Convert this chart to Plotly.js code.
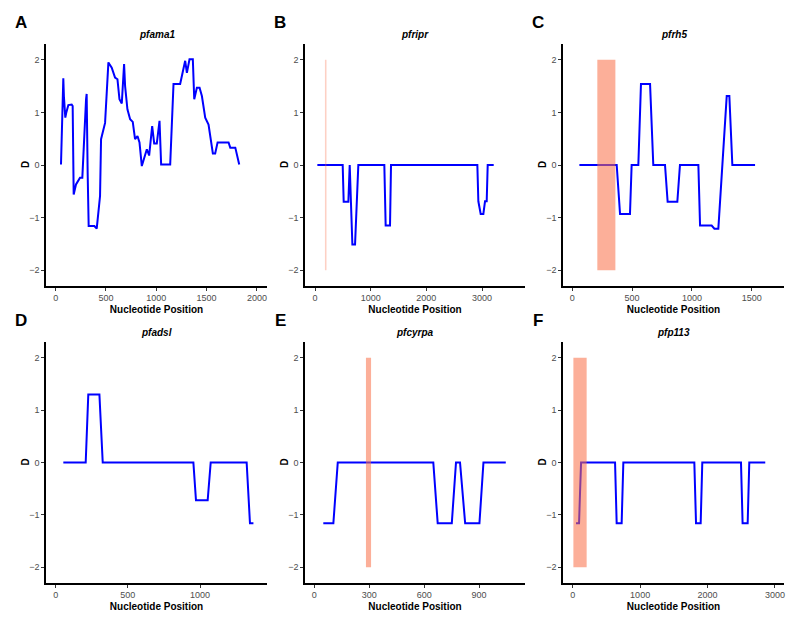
<!DOCTYPE html>
<html>
<head>
<meta charset="utf-8">
<script src="https://cdn.plot.ly/plotly-3.0.1.min.js"></script>
<style>html,body{margin:0;padding:0;background:#fff;}#chart{width:800px;height:625px;}</style>
</head>
<body>
<div id="chart"></div>
<script>
// ---- Data ----
const genes = ["pfama1", "pfripr", "pfrh5", "pfadsl", "pfcyrpa", "pfp113"];
const panelLetters = ["A", "B", "C", "D", "E", "F"];

const pfama1X = [53, 62, 76, 82, 96, 106, 126, 159, 169, 179, 202, 242, 265, 302, 308, 318, 328, 385, 408, 441, 451, 491, 524, 557, 590, 614, 634, 657, 680, 690, 713, 740, 766, 789, 813, 833, 856, 906, 929, 959, 979, 1005, 1032, 1048, 1138, 1171, 1237, 1287, 1304, 1330, 1363, 1377, 1403, 1430, 1453, 1486, 1519, 1562, 1585, 1609, 1718, 1735, 1785, 1824];
const pfama1D = [0.01, 0.8, 1.65, 1.3, 0.9, 1.0, 1.14, 1.15, 1.12, -0.56, -0.37, -0.24, -0.24, 1.25, 1.35, -0.15, -1.16, -1.16, -1.21, -0.59, 0.49, 0.8, 1.95, 1.85, 1.66, 1.63, 1.25, 1.17, 1.92, 1.5, 1.06, 0.87, 0.82, 0.49, 0.55, 0.43, -0.02, 0.3, 0.18, 0.74, 0.41, 0.41, 0.84, 0.01, 0.01, 1.54, 1.54, 1.98, 1.75, 2.01, 2.01, 1.25, 1.47, 1.47, 1.31, 0.9, 0.77, 0.22, 0.22, 0.43, 0.43, 0.33, 0.33, 0.01];

const pfriprX = [42, 497, 515, 599, 623, 640, 671, 719, 754, 778, 1245, 1269, 1347, 1365, 2916, 2934, 2976, 3024, 3054, 3084, 3102, 3210];
const pfriprD = [0, 0, -0.7, -0.7, 0, -0.6, -1.51, -1.51, -0.59, 0, 0, -1.15, -1.15, 0, 0, -0.69, -0.93, -0.93, -0.69, -0.69, 0, 0];

const pfrh5X = [59, 371, 399, 482, 496, 552, 574, 650, 677, 775, 797, 878, 900, 1054, 1068, 1165, 1188, 1221, 1291, 1313, 1338, 1528];
const pfrh5D = [0, 0, -0.93, -0.93, 0, 0, 1.54, 1.54, 0, 0, -0.7, -0.7, 0, 0, -1.15, -1.15, -1.21, -1.21, 1.31, 1.31, 0, 0];

const pfadslX = [53, 208, 226, 303, 326, 954, 972, 1053, 1074, 1323, 1346, 1370];
const pfadslD = [0, 0, 1.3, 1.3, 0, 0, -0.72, -0.72, 0, 0, -1.16, -1.16];

const pfcyrpaX = [49, 104, 128, 650, 674, 751, 774, 796, 824, 902, 924, 1046];
const pfcyrpaD = [-1.16, -1.16, 0, 0, -1.16, -1.16, 0, 0, -1.16, -1.16, 0, 0];

const pfp113X = [49, 94, 109, 124, 628, 642, 652, 726, 741, 751, 1804, 1819, 1829, 1898, 1913, 1922, 2496, 2511, 2520, 2595, 2609, 2619, 2856];
const pfp113D = [-1.16, -1.16, -0.56, 0, 0, -0.59, -1.16, -1.16, -0.59, 0, 0, -0.59, -1.16, -1.16, -0.59, 0, 0, -0.59, -1.16, -1.16, -0.59, 0, 0];

// highlighted regions [start, end] (null = none)
const regionStart = [null, 178, 209, null, 282, 10];
const regionEnd   = [null, 206, 360, null, 310, 207];
const regionAlpha = [0, 0.32, 0.55, 0, 0.55, 0.55];
const regionLow = -2, regionHigh = 2;

const xTickStep = [500, 1000, 500, 500, 300, 1000];
const yTicks = [-2, -1, 0, 1, 2];
const xTitle = "Nucleotide Position";
const yTitle = "D";

// ---- Layout geometry ----
const xs = [pfama1X, pfriprX, pfrh5X, pfadslX, pfcyrpaX, pfp113X];
const ys = [pfama1D, pfriprD, pfrh5D, pfadslD, pfcyrpaD, pfp113D];
const W = 800, H = 625;
const colPx = [[46, 267], [305, 525], [563, 784]];
const rowPx = [[44, 286], [342, 583]];
const xRanges = [[-96, 2100], [-180, 3772], [-78, 1770], [-67, 1464], [-51, 1151], [-144, 3134]];
const yRange = [-2.3, 2.3];

const font = "Liberation Sans, Arial, sans-serif";
const traces = [];
const layout = {
  width: W, height: H,
  margin: {l: 0, r: 0, t: 0, b: 0},
  paper_bgcolor: "#fff", plot_bgcolor: "#fff",
  showlegend: false,
  font: {family: font, color: "#000"},
  shapes: [], annotations: []
};

for (let i = 0; i < 6; i++) {
  const r = Math.floor(i / 3), c = i % 3;
  const sfx = i === 0 ? "" : String(i + 1);
  const xa = "xaxis" + sfx, ya = "yaxis" + sfx;
  const xr = "x" + sfx, yr = "y" + sfx;
  const dx = [colPx[c][0] / W, colPx[c][1] / W];
  const dy = [1 - rowPx[r][1] / H, 1 - rowPx[r][0] / H];

  traces.push({
    type: "scatter", mode: "lines", x: xs[i], y: ys[i], xaxis: xr, yaxis: yr,
    line: {color: "#0000FF", width: 2}, hoverinfo: "skip"
  });

  layout[xa] = {
    domain: dx, anchor: yr, range: xRanges[i],
    showgrid: false, zeroline: false, showline: true, linecolor: "#000", linewidth: 1.6,
    ticks: "outside", ticklen: 3, tickwidth: 1, tickcolor: "#333",
    tick0: 0, dtick: xTickStep[i],
    tickfont: {family: font, size: 9, color: "#4D4D4D"},
    title: {text: "<b>" + xTitle + "</b>", font: {family: font, size: 10, color: "#000"}, standoff: 3}
  };
  layout[ya] = {
    domain: dy, anchor: xr, range: yRange,
    showgrid: false, zeroline: false, showline: true, linecolor: "#000", linewidth: 1.6,
    ticks: "outside", ticklen: 3, tickwidth: 1, tickcolor: "#333",
    tickvals: yTicks,
    tickfont: {family: font, size: 9, color: "#4D4D4D"}
  };

  if (regionStart[i] !== null) {
    layout.shapes.push({
      type: "rect", xref: xr, yref: yr, layer: "above",
      x0: regionStart[i], x1: regionEnd[i], y0: regionLow, y1: regionHigh,
      fillcolor: "rgba(250,110,70," + regionAlpha[i] + ")",
      line: {width: 0}
    });
  }

  // y-axis title
  layout.annotations.push({
    xref: "paper", yref: "paper", x: (colPx[c][0] - 21) / W, y: (dy[0] + dy[1]) / 2,
    text: "<b>" + yTitle + "</b>", showarrow: false, textangle: -90,
    xanchor: "center", yanchor: "middle",
    font: {family: font, size: 10, color: "#000"}
  });
  // subplot title
  layout.annotations.push({
    xref: "paper", yref: "paper", x: (dx[0] + dx[1]) / 2, y: 1 - (rowPx[r][0] - 10) / H,
    text: "<b><i>" + genes[i] + "</i></b>", showarrow: false,
    xanchor: "center", yanchor: "middle",
    font: {family: font, size: 10, color: "#000"}
  });
  // panel letter
  layout.annotations.push({
    xref: "paper", yref: "paper", x: (colPx[c][0] - 25) / W, y: 1 - (rowPx[r][0] - 21) / H,
    text: "<b>" + panelLetters[i] + "</b>", showarrow: false,
    xanchor: "center", yanchor: "middle",
    font: {family: font, size: 17, color: "#000"}
  });
}

Plotly.newPlot("chart", traces, layout, {displayModeBar: false, staticPlot: true});
</script>
</body>
</html>
